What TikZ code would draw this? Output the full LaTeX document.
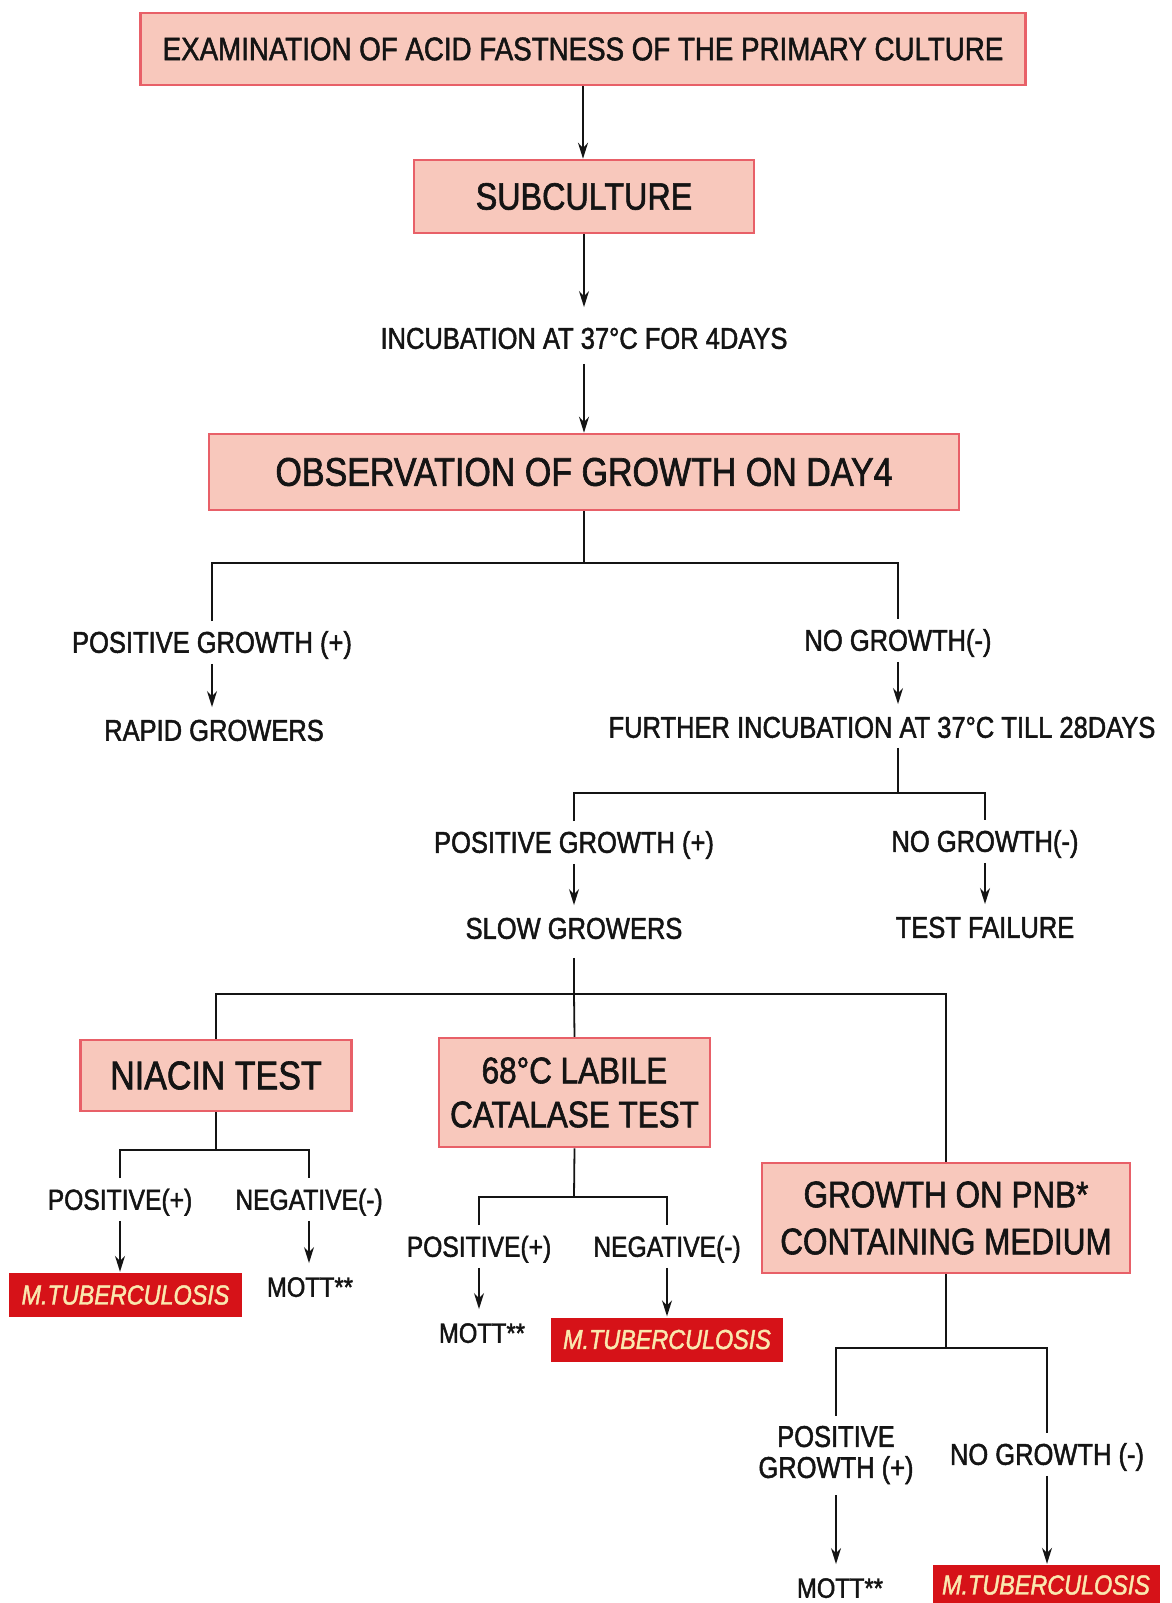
\documentclass[tikz,border=0pt]{standalone}
\usepackage{fontspec}
\setmainfont{Liberation Sans}[FakeStretch=0.85, FakeBold=1.6]
\usetikzlibrary{arrows.meta}
\definecolor{boxfill}{RGB}{248,200,188}
\definecolor{boxedge}{RGB}{232,96,104}
\definecolor{mtbred}{RGB}{214,18,24}
\definecolor{mtbtext}{RGB}{250,232,175}
\definecolor{ink}{RGB}{20,20,20}
\begin{document}
\begin{tikzpicture}[x=1pt,y=-1pt,
  pbox/.style={draw=boxedge, fill=boxfill, line width=2.5pt, inner sep=0pt, align=center, text=ink},
  rbox/.style={fill=mtbred, inner sep=0pt, text=mtbtext, font=\fontsize{27.5}{30}\selectfont\itshape, minimum height=44pt},
  lbl/.style={inner sep=0pt, text height=21.5pt, text depth=0pt, font=\fontsize{30}{31}\selectfont, text=ink},
  small/.style={lbl, font=\fontsize{29}{30}\selectfont},
  mott/.style={lbl, font=\fontsize{28}{30}\selectfont},
  ln/.style={line width=1.8pt, draw=ink},
  arrb/.style={ln, -{Stealth[length=16pt,width=10pt]}},
  arr/.style={arrb, shorten <=11pt, shorten >=12pt},
  arrtb/.style={arrb, shorten <=11pt, shorten >=1pt},
]
\fill[white] (0,0) rectangle (1172,1603);
\useasboundingbox (0,0) rectangle (1172,1603);

% top part
\node[pbox, minimum width=885pt, minimum height=72pt, font=\fontsize{32.6}{36}\selectfont] (top) at (583,49) {EXAMINATION OF ACID FASTNESS OF THE PRIMARY CULTURE};
\node[pbox, minimum width=340pt, minimum height=73pt, font=\fontsize{38}{40}\selectfont] (sub) at (584,196.5) {SUBCULTURE};
\node[lbl] (inc) at (584,338) {INCUBATION AT 37°C FOR 4DAYS};
\node[pbox, minimum width=750pt, minimum height=76pt, font=\fontsize{40}{44}\selectfont] (obs) at (584,472) {OBSERVATION OF GROWTH ON DAY4};

\coordinate (j1) at (584,563);
\node[lbl] (pg1) at (212,642) {POSITIVE GROWTH (+)};
\node[lbl] (rapid) at (214,730) {RAPID GROWERS};
\node[lbl] (ng1) at (898,640) {NO GROWTH(-)};
\node[lbl] (fur) at (882,727) {FURTHER INCUBATION AT 37°C TILL 28DAYS};

\coordinate (j2) at (898,793);
\node[lbl] (pg2) at (574,842) {POSITIVE GROWTH (+)};
\node[lbl] (slow) at (574,928) {SLOW GROWERS};
\node[lbl] (ng2) at (985,841) {NO GROWTH(-)};
\node[lbl] (fail) at (985,927) {TEST FAILURE};

\coordinate (j3) at (574,994);
\node[pbox, minimum width=271pt, minimum height=71pt, font=\fontsize{40}{44}\selectfont] (nia) at (216,1075.5) {NIACIN TEST};
\node[pbox, minimum width=271pt, minimum height=109pt, font=\fontsize{37}{44}\selectfont] (cat) at (574.5,1092.5) {68°C LABILE\\CATALASE TEST};
\node[pbox, minimum width=368pt, minimum height=110pt, font=\fontsize{37}{47}\selectfont] (pnb) at (946,1218) {GROWTH ON PNB*\\CONTAINING MEDIUM};

% niacin branch
\coordinate (j4) at (216,1150);
\node[small] (npos) at (120,1199) {POSITIVE(+)};
\node[small] (nneg) at (309,1199) {NEGATIVE(-)};
\node[rbox, minimum width=233pt] (ntb) at (125.5,1295) {M.TUBERCULOSIS};
\node[mott] (nmott) at (310,1286) {MOTT**};

% catalase branch
\coordinate (j5) at (574,1197);
\node[small] (cpos) at (479,1246) {POSITIVE(+)};
\node[small] (cneg) at (667,1246) {NEGATIVE(-)};
\node[mott] (cmott) at (482,1332) {MOTT**};
\node[rbox, minimum width=232pt] (ctb) at (667,1339.5) {M.TUBERCULOSIS};

% PNB branch
\coordinate (j6) at (946,1348);
\node[inner sep=0pt, align=center, font=\fontsize{30}{31}\selectfont, text=ink] (ppos) at (836,1455) {POSITIVE\\GROWTH (+)};
\node[lbl] (pneg) at (1047,1454) {NO GROWTH (-)};
\node[mott] (pmott) at (840,1587) {MOTT**};
\node[rbox, minimum width=227pt, minimum height=40pt] (ptb) at (1046,1585) {M.TUBERCULOSIS};

% connectors
\draw[arrb] (top.south) -- (top.south |- sub.north);
\draw[arrb, shorten >=20pt] (sub.south) -- (sub.south |- inc.north);
\draw[arrb, shorten <=15pt] (inc.south) -- (inc.south |- obs.north);
\draw[ln] (obs.south) -- (j1);
\draw[ln] ([yshift=10pt]pg1.north) |- (j1) -| ([yshift=10pt]ng1.north);
\draw[arr] (pg1.south) -- (pg1.south |- rapid.north);
\draw[arr] (ng1.south) -- (ng1.south |- fur.north);
\draw[ln, shorten <=10pt] (fur.south -| ng1.south) -- (j2);
\draw[ln] ([yshift=10pt]pg2.north) |- (j2) -| ([yshift=10pt]ng2.north);
\draw[arr] (pg2.south) -- (pg2.south |- slow.north);
\draw[arr] (ng2.south) -- (ng2.south |- fail.north);
\draw[ln, shorten <=19pt] (slow.south) -- (j3);
\draw[ln] (nia.north) |- (j3) -| (pnb.north);
\draw[ln] (j3) -- (cat.north);

\draw[ln] (nia.south) -- (j4);
\draw[ln] ([yshift=10pt]npos.north) |- (j4) -| ([yshift=10pt]nneg.north);
\draw[arrtb] (npos.south) -- (npos.south |- ntb.north);
\draw[arr] (nneg.south) -- (nneg.south |- nmott.north);

\draw[ln] (cat.south) -- (j5);
\draw[ln] ([yshift=10pt]cpos.north) |- (j5) -| ([yshift=10pt]cneg.north);
\draw[arr] (cpos.south) -- (cpos.south |- cmott.north);
\draw[arrtb] (cneg.south) -- (cneg.south |- ctb.north);

\draw[ln] (pnb.south) -- (j6);
\draw[ln] ([yshift=10pt]ppos.north) |- (j6) -| ([yshift=10pt]pneg.north);
\draw[arr] (ppos.south) -- (ppos.south |- pmott.north);
\draw[arrtb] (pneg.south) -- (pneg.south |- ptb.north);
\end{tikzpicture}
\end{document}
